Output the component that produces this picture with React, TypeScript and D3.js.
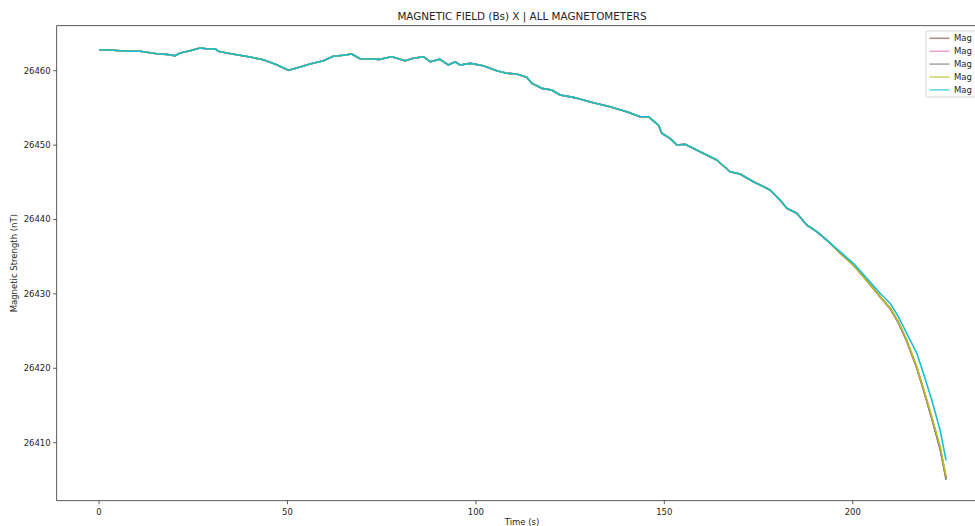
import React from "react";
import * as d3 from "d3";

// Shared record (all five magnetometers overlap until the final descent)
const baseTime = [0, 3.79, 7.35, 10.88, 12.66, 15.31, 17.96, 20.17, 21.49, 24.15, 26.8, 29.0, 30.78, 31.66, 33.89, 36.54, 40.07, 43.6, 47.16, 50.23, 52.46, 55.99, 59.52, 62.17, 64.83, 67.06, 69.26, 71.91, 74.57, 77.67, 81.2, 83.4, 86.06, 87.83, 90.49, 92.69, 94.47, 95.8, 98.45, 101.98, 105.54, 108.19, 110.84, 113.5, 114.82, 117.48, 120.13, 122.33, 125.86, 131.17, 135.6, 140.03, 143.56, 145.76, 148.42, 149.32, 151.52, 153.3, 155.5, 159.48, 163.91, 167.44, 170.1, 173.63, 178.05, 180.71, 182.49, 185.14, 187.79, 190.45, 193.1];
const baseField = [26462.82, 26462.74, 26462.61, 26462.61, 26462.47, 26462.28, 26462.2, 26462.02, 26462.38, 26462.69, 26463.05, 26462.92, 26462.96, 26462.61, 26462.38, 26462.15, 26461.84, 26461.48, 26460.81, 26460.05, 26460.36, 26460.9, 26461.34, 26461.94, 26462.07, 26462.24, 26461.61, 26461.57, 26461.53, 26461.88, 26461.34, 26461.67, 26461.88, 26461.21, 26461.53, 26460.77, 26461.21, 26460.77, 26460.99, 26460.67, 26460.0, 26459.65, 26459.56, 26459.11, 26458.31, 26457.63, 26457.41, 26456.73, 26456.42, 26455.7, 26455.16, 26454.49, 26453.82, 26453.82, 26452.7, 26451.59, 26450.91, 26450.01, 26450.11, 26449.11, 26448.0, 26446.42, 26446.12, 26445.08, 26443.97, 26442.62, 26441.51, 26440.83, 26439.26, 26438.36, 26437.24];

// Per-sensor tails where the traces separate
const tailTime = [196.63, 200.16, 203.72, 207.25, 209.9, 212.1, 214.33, 216.99, 218.74, 220.97, 223.17, 224.76];
const tailMag1 = [26435.5, 26433.9, 26431.8, 26429.6, 26428.1, 26426.2, 26423.7, 26420.1, 26417.2, 26413.3, 26409.3, 26405.2];
const tailMag2 = [26435.5, 26433.9, 26431.8, 26429.6, 26428.1, 26426.2, 26423.7, 26420.1, 26417.2, 26413.3, 26409.3, 26405.3];
const tailMag3 = [26435.5, 26433.9, 26431.8, 26429.6, 26428.0, 26426.1, 26423.6, 26420.0, 26417.1, 26413.2, 26409.1, 26405.0];
const tailMag4 = [26435.5, 26433.9, 26431.8, 26429.6, 26428.1, 26426.26, 26423.8, 26420.21, 26417.3, 26413.5, 26409.5, 26405.4];
const tailMag5 = [26435.67, 26434.11, 26432.1, 26430.08, 26428.74, 26426.94, 26424.7, 26422.02, 26419.33, 26415.74, 26411.71, 26407.61];

const seriesNames = ["Mag", "Mag", "Mag", "Mag", "Mag"];
const seriesColors = ["#8c564b", "#e377c2", "#7f7f7f", "#bcbd22", "#17becf"];
const seriesTails = [tailMag1, tailMag2, tailMag3, tailMag4, tailMag5];

const xTicks = [0, 50, 100, 150, 200];
const yTicks = [26410, 26420, 26430, 26440, 26450, 26460];

const W = 975;
const H = 526;
const left = 56.7, top = 25.7, bottom = 500.7;
const xMin = -11.24, xMax = 236.0;
const yMin = 26402.2, yMax = 26466.05;
const pxPerUnit = 3.7685;
const right = left + (xMax - xMin) * pxPerUnit;

export default function App() {
  const x = d3.scaleLinear().domain([xMin, xMax]).range([left, right]);
  const y = d3.scaleLinear().domain([yMin, yMax]).range([bottom, top]);

  const series = seriesTails.map((tail, i) => {
    const pts: [number, number][] = baseTime.map((t, j) => [t, baseField[j]]);
    tailTime.forEach((t, j) => pts.push([t, tail[j]]));
    return { name: seriesNames[i], color: seriesColors[i], pts };
  });

  const line = d3
    .line<[number, number]>()
    .x((d) => x(d[0]))
    .y((d) => y(d[1]));

  const font = "'DejaVu Sans', sans-serif";
  const txt = "#262626";

  return (
    <svg
      width={W}
      height={H}
      style={{ position: "absolute", left: 0, top: 0, background: "#fff" }}
      fontFamily={font}
    >
      <rect x={0} y={0} width={W} height={H} fill="#fff" />
      <text x={522} y={20} textAnchor="middle" fontSize={10.4} fill={txt}>
        MAGNETIC FIELD (Bs) X | ALL MAGNETOMETERS
      </text>

      {series.map((s, i) => (
        <path key={i} d={line(s.pts) || ""} fill="none" stroke={s.color} strokeWidth={1.6} strokeLinejoin="round" />
      ))}

      {/* spines */}
      <rect x={left} y={top} width={right - left} height={bottom - top} fill="none" stroke="#333" strokeWidth={0.8} />

      {xTicks.map((t) => (
        <g key={t}>
          <line x1={x(t)} x2={x(t)} y1={bottom} y2={bottom + 3.5} stroke="#333" strokeWidth={0.8} />
          <text x={x(t)} y={bottom + 14} textAnchor="middle" fontSize={8.5} fill={txt}>
            {t}
          </text>
        </g>
      ))}
      {yTicks.map((t) => (
        <g key={t}>
          <line x1={left - 3.5} x2={left} y1={y(t)} y2={y(t)} stroke="#333" strokeWidth={0.8} />
          <text x={left - 6} y={y(t) + 3} textAnchor="end" fontSize={8.5} fill={txt}>
            {t}
          </text>
        </g>
      ))}

      <text x={522} y={525} textAnchor="middle" fontSize={8.5} fill={txt}>
        Time (s)
      </text>
      <text
        transform={`translate(17,${(top + bottom) / 2}) rotate(-90)`}
        textAnchor="middle"
        fontSize={8.5}
        fill={txt}
      >
        Magnetic Strength (nT)
      </text>

      {/* legend */}
      <g>
        <rect x={926} y={31} width={70} height={66} rx={2} fill="#fff" fillOpacity={0.8} stroke="#ccc" strokeWidth={0.8} />
        {series.map((s, i) => (
          <g key={i} transform={`translate(0,${38.3 + i * 12.9})`}>
            <line x1={929.5} x2={949.5} y1={0} y2={0} stroke={s.color} strokeOpacity={0.7} strokeWidth={1.5} />
            <text x={954} y={3} fontSize={8.5} fill={txt}>
              {s.name}
            </text>
          </g>
        ))}
      </g>
    </svg>
  );
}
